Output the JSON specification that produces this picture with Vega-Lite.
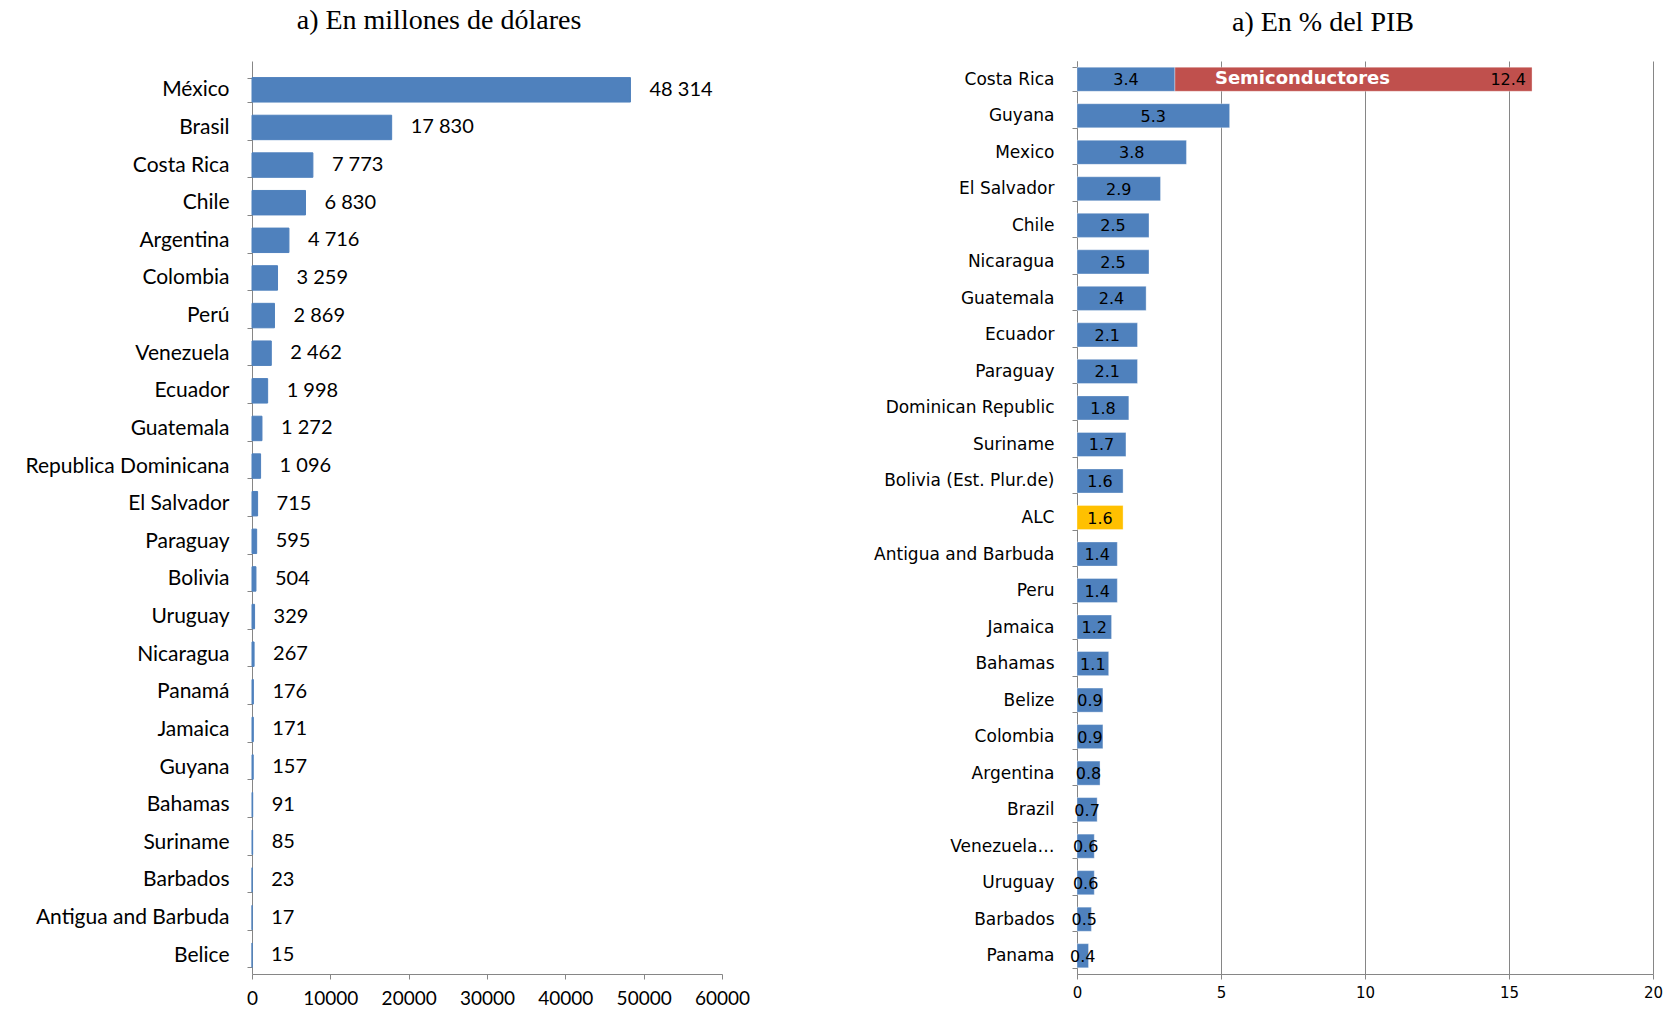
{
  "$schema": "https://vega.github.io/schema/vega-lite/v6.json",
  "padding": {"left": 24, "top": 7, "right": 5, "bottom": 5},
  "background": "white",
  "spacing": 123,
  "config": {
    "view": {"stroke": null},
    "locale": {"number": {"decimal": ".", "thousands": " ", "grouping": [3], "currency": ["$", ""]}},
    "title": {"font": "Liberation Serif", "fontSize": 28, "fontWeight": "normal", "color": "#000000", "frame": "group", "anchor": "middle"},
    "axis": {"domainColor": "#868686", "tickColor": "#868686", "gridColor": "#868686", "labelColor": "#000000", "title": null}
  },
  "hconcat": [
    {
      "title": {"text": "a) En millones de dólares", "dx": -48, "offset": 15},
      "width": 470,
      "height": 913,
      "data": {"values": [
        {"pais": "México", "valor": 48314},
        {"pais": "Brasil", "valor": 17830},
        {"pais": "Costa Rica", "valor": 7773},
        {"pais": "Chile", "valor": 6830},
        {"pais": "Argentina", "valor": 4716},
        {"pais": "Colombia", "valor": 3259},
        {"pais": "Perú", "valor": 2869},
        {"pais": "Venezuela", "valor": 2462},
        {"pais": "Ecuador", "valor": 1998},
        {"pais": "Guatemala", "valor": 1272},
        {"pais": "Republica Dominicana", "valor": 1096},
        {"pais": "El Salvador", "valor": 715},
        {"pais": "Paraguay", "valor": 595},
        {"pais": "Bolivia", "valor": 504},
        {"pais": "Uruguay", "valor": 329},
        {"pais": "Nicaragua", "valor": 267},
        {"pais": "Panamá", "valor": 176},
        {"pais": "Jamaica", "valor": 171},
        {"pais": "Guyana", "valor": 157},
        {"pais": "Bahamas", "valor": 91},
        {"pais": "Suriname", "valor": 85},
        {"pais": "Barbados", "valor": 23},
        {"pais": "Antigua and Barbuda", "valor": 17},
        {"pais": "Belice", "valor": 15}
      ]},
      "encoding": {
        "y": {"field": "pais", "type": "nominal", "sort": null,
          "scale": {"paddingInner": 0.35, "paddingOuter": 0.308, "align": 0.716},
          "axis": {"labelFont": "Lato", "labelFontSize": 21, "labelPadding": 18, "tickBand": "extent", "tickSize": 5, "labelLimit": 400}}
      },
      "layer": [
        {
          "mark": {"type": "bar", "color": "#4F81BD", "stroke": "#4F81BD", "strokeWidth": 1},
          "encoding": {
            "x": {"field": "valor", "type": "quantitative", "scale": {"domain": [0, 60000]},
              "axis": {"values": [0, 10000, 20000, 30000, 40000, 50000, 60000], "format": "d", "grid": false, "labelFont": "Lato", "labelFontSize": 19, "labelPadding": 10, "labelFlush": false, "tickSize": 5}}
          }
        },
        {
          "mark": {"type": "text", "align": "left", "baseline": "middle", "dx": 19, "font": "Lato", "fontSize": 20, "color": "#000000"},
          "encoding": {
            "x": {"field": "valor", "type": "quantitative"},
            "text": {"field": "valor", "type": "quantitative", "format": ",d"}
          }
        }
      ]
    },
    {
      "title": {"text": "a) En % del PIB", "dx": -42, "offset": 15},
      "width": 576,
      "height": 913,
      "data": {"values": [
        {"pais": "Costa Rica", "pib": 3.4, "grupo": "Total"},
        {"pais": "Costa Rica", "pib": 12.4, "grupo": "Semiconductores"},
        {"pais": "Guyana", "pib": 5.3, "grupo": "Total"},
        {"pais": "Mexico", "pib": 3.8, "grupo": "Total"},
        {"pais": "El Salvador", "pib": 2.9, "grupo": "Total"},
        {"pais": "Chile", "pib": 2.5, "grupo": "Total"},
        {"pais": "Nicaragua", "pib": 2.5, "grupo": "Total"},
        {"pais": "Guatemala", "pib": 2.4, "grupo": "Total"},
        {"pais": "Ecuador", "pib": 2.1, "grupo": "Total"},
        {"pais": "Paraguay", "pib": 2.1, "grupo": "Total"},
        {"pais": "Dominican Republic", "pib": 1.8, "grupo": "Total"},
        {"pais": "Suriname", "pib": 1.7, "grupo": "Total"},
        {"pais": "Bolivia (Est. Plur.de)", "pib": 1.6, "grupo": "Total"},
        {"pais": "ALC", "pib": 1.6, "grupo": "ALC"},
        {"pais": "Antigua and Barbuda", "pib": 1.4, "grupo": "Total"},
        {"pais": "Peru", "pib": 1.4, "grupo": "Total"},
        {"pais": "Jamaica", "pib": 1.2, "grupo": "Total"},
        {"pais": "Bahamas", "pib": 1.1, "grupo": "Total"},
        {"pais": "Belize", "pib": 0.9, "grupo": "Total"},
        {"pais": "Colombia", "pib": 0.9, "grupo": "Total"},
        {"pais": "Argentina", "pib": 0.8, "grupo": "Total"},
        {"pais": "Brazil", "pib": 0.7, "grupo": "Total"},
        {"pais": "Venezuela…", "pib": 0.6, "grupo": "Total"},
        {"pais": "Uruguay", "pib": 0.6, "grupo": "Total"},
        {"pais": "Barbados", "pib": 0.5, "grupo": "Total"},
        {"pais": "Panama", "pib": 0.4, "grupo": "Total"}
      ]},
      "encoding": {
        "y": {"field": "pais", "type": "nominal", "sort": null,
          "scale": {"domain": ["Costa Rica", "Guyana", "Mexico", "El Salvador", "Chile", "Nicaragua", "Guatemala", "Ecuador", "Paraguay", "Dominican Republic", "Suriname", "Bolivia (Est. Plur.de)", "ALC", "Antigua and Barbuda", "Peru", "Jamaica", "Bahamas", "Belize", "Colombia", "Argentina", "Brazil", "Venezuela…", "Uruguay", "Barbados", "Panama"], "paddingInner": 0.34, "paddingOuter": 0.17},
          "axis": {"labelFont": "DejaVu Sans", "labelFontSize": 17, "labelPadding": 18, "tickBand": "extent", "tickSize": 5, "labelLimit": 400}}
      },
      "resolve": {"scale": {"x": "independent"}},
      "layer": [
        {
          "mark": {"type": "bar", "stroke": "#ffffff", "strokeOpacity": 0.35, "strokeWidth": 1},
          "encoding": {
            "x": {"field": "pib", "type": "quantitative", "stack": "zero", "scale": {"domain": [0, 20]},
              "axis": {"values": [0, 5, 10, 15, 20], "grid": true, "gridColor": "#868686", "labelFont": "DejaVu Sans", "labelFontSize": 15, "labelPadding": 6, "labelFlush": false, "tickSize": 5}},
            "color": {"field": "grupo", "type": "nominal", "scale": {"domain": ["Total", "ALC", "Semiconductores"], "range": ["#4F81BD", "#FFC000", "#C0504D"]}, "legend": null},
            "order": {"field": "grupo", "sort": "descending"}
          }
        },
        {
          "transform": [{"filter": "datum.grupo !== 'Semiconductores'"}],
          "mark": {"type": "text", "align": "center", "baseline": "middle", "font": "DejaVu Sans", "fontSize": 16, "color": "#000000", "dy": 1},
          "encoding": {
            "x": {"field": "pib", "type": "quantitative", "scale": {"domain": [0, 40]}, "axis": null},
            "text": {"field": "pib", "type": "quantitative", "format": ".1f"}
          }
        },
        {
          "transform": [
            {"stack": "pib", "groupby": ["pais"], "sort": [{"field": "grupo", "order": "descending"}], "as": ["x0", "x1"]},
            {"filter": "datum.grupo === 'Semiconductores'"}
          ],
          "mark": {"type": "text", "align": "right", "baseline": "middle", "dx": -6, "dy": 1, "font": "DejaVu Sans", "fontSize": 16, "color": "#000000"},
          "encoding": {
            "x": {"field": "x1", "type": "quantitative", "scale": {"domain": [0, 20]}, "axis": null},
            "text": {"field": "pib", "type": "quantitative", "format": ".1f"}
          }
        },
        {
          "transform": [
            {"stack": "pib", "groupby": ["pais"], "sort": [{"field": "grupo", "order": "descending"}], "as": ["x0", "x1"]},
            {"filter": "datum.grupo === 'Semiconductores'"}
          ],
          "mark": {"type": "text", "align": "left", "baseline": "middle", "dx": 40, "font": "DejaVu Sans", "fontSize": 18, "fontWeight": "bold", "color": "#ffffff"},
          "encoding": {
            "x": {"field": "x0", "type": "quantitative", "scale": {"domain": [0, 20]}, "axis": null},
            "text": {"field": "grupo", "type": "nominal"}
          }
        }
      ]
    }
  ]
}
